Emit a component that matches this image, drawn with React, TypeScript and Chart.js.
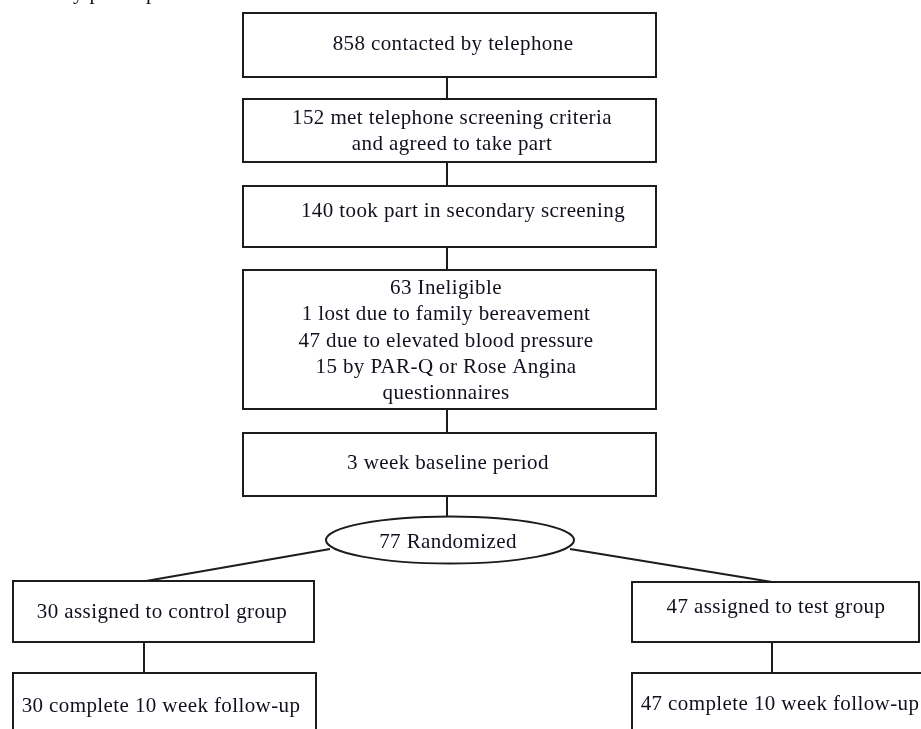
import React, { useEffect, useRef } from "react";
import { Chart, registerables } from "chart.js";

Chart.register(...registerables);

// ---- content (text) ----
const captionText = "Flow of study participants";
const screeningLabels: string[][] = [
  ["858 contacted by telephone"],
  ["152 met telephone screening criteria", "and agreed to take part"],
  ["140 took part in secondary screening"],
  [
    "63 Ineligible",
    "1 lost due to family bereavement",
    "47 due to elevated blood pressure",
    "15 by PAR-Q or Rose Angina",
    "questionnaires",
  ],
  ["3 week baseline period"],
];
const randomizedLabel = "77 Randomized";
const armLabels = ["30 assigned to control group", "47 assigned to test group"];
const followUpLabels = ["30 complete 10 week follow-up", "47 complete 10 week follow-up"];

// ---- layout (page coordinate space, 921 x 729) ----
type Box = { x0: number; x1: number; y0: number; y1: number; tx: number; by: number };
const screeningGeom: Box[] = [
  { x0: 243, x1: 656, y0: 13, y1: 77, tx: 453, by: 50 },
  { x0: 243, x1: 656, y0: 99, y1: 162, tx: 452, by: 124 },
  { x0: 243, x1: 656, y0: 186, y1: 247, tx: 463, by: 217 },
  { x0: 243, x1: 656, y0: 270, y1: 409, tx: 446, by: 294 },
  { x0: 243, x1: 656, y0: 433, y1: 496, tx: 448, by: 469 },
];
const armGeom: Box[] = [
  { x0: 13, x1: 314, y0: 581, y1: 642, tx: 162, by: 618 },
  { x0: 632, x1: 919, y0: 582, y1: 642, tx: 776, by: 613 },
];
const followGeom: Box[] = [
  { x0: 13, x1: 316, y0: 673, y1: 737, tx: 161, by: 712 },
  { x0: 632, x1: 924, y0: 673, y1: 737, tx: 780, by: 710 },
];
const ellipseGeom = { cx: 450, cy: 540, rx: 124, ry: 23.5, tx: 448, by: 548 };
const vConnectors: [number, number, number][] = [
  [447, 77, 99],
  [447, 162, 186],
  [447, 247, 270],
  [447, 409, 433],
  [447, 496, 517],
  [144, 642, 673],
  [772, 642, 673],
];
const diagConnectors: [number, number, number, number][] = [
  [330, 549, 146, 581],
  [570, 549, 772, 582],
];
const lineHeight = 26.3;
const FONT = '21px "Liberation Serif", "Times New Roman", serif';
const INK = "#1c1c1c";
const TEXT = "#10101e";

export default function App() {
  const canvasRef = useRef<HTMLCanvasElement | null>(null);

  useEffect(() => {
    document.body.style.margin = "0";
    const canvas = canvasRef.current;
    if (!canvas) return;

    const allBoxes: { g: Box; lines: string[] }[] = [
      ...screeningGeom.map((g, i) => ({ g, lines: screeningLabels[i] })),
      ...armGeom.map((g, i) => ({ g, lines: [armLabels[i]] })),
      ...followGeom.map((g, i) => ({ g, lines: [followUpLabels[i]] })),
    ];

    const flowPlugin = {
      id: "flowDraw",
      afterDraw(chart: any) {
        const ctx: CanvasRenderingContext2D = chart.ctx;
        const xs = chart.scales.x;
        const ys = chart.scales.y;
        const px = (v: number) => xs.getPixelForValue(v);
        const py = (v: number) => ys.getPixelForValue(v);
        ctx.save();
        ctx.strokeStyle = INK;
        ctx.lineWidth = 2;
        ctx.lineCap = "butt";

        // connectors
        vConnectors.forEach(([x, a, b]) => {
          ctx.beginPath();
          ctx.moveTo(px(x), py(a));
          ctx.lineTo(px(x), py(b));
          ctx.stroke();
        });
        diagConnectors.forEach(([x0, y0, x1, y1]) => {
          ctx.beginPath();
          ctx.moveTo(px(x0), py(y0));
          ctx.lineTo(px(x1), py(y1));
          ctx.stroke();
        });

        // boxes
        allBoxes.forEach(({ g }) => {
          const x0 = px(g.x0), x1 = px(g.x1), y0 = py(g.y0), y1 = py(g.y1);
          ctx.fillStyle = "#ffffff";
          ctx.fillRect(x0, y0, x1 - x0, y1 - y0);
          ctx.strokeRect(x0, y0, x1 - x0, y1 - y0);
        });

        // ellipse
        const e = ellipseGeom;
        ctx.beginPath();
        ctx.ellipse(px(e.cx), py(e.cy), px(e.cx + e.rx) - px(e.cx), py(e.cy + e.ry) - py(e.cy), 0, 0, Math.PI * 2);
        ctx.fillStyle = "#ffffff";
        ctx.fill();
        ctx.stroke();

        // text
        ctx.font = FONT;
        try {
          (ctx as any).letterSpacing = "0.4px";
        } catch (err) {
          /* ignore */
        }
        ctx.fillStyle = TEXT;
        ctx.textAlign = "center";
        ctx.textBaseline = "alphabetic";
        allBoxes.forEach(({ g, lines }) => {
          lines.forEach((t, i) => {
            ctx.fillText(t, px(g.tx), py(g.by + i * lineHeight));
          });
        });
        ctx.fillText(randomizedLabel, px(e.tx), py(e.by));

        // caption (mostly above the visible area)
        ctx.textAlign = "left";
        const pre = ctx.measureText("Flow of stud").width;
        ctx.fillText(captionText, px(73) - pre, py(-1));
        ctx.restore();
      },
    };

    const centers = [...screeningGeom, ...armGeom, ...followGeom].map((g) => ({
      x: (g.x0 + g.x1) / 2,
      y: (g.y0 + g.y1) / 2,
    }));

    const chart = new Chart(canvas, {
      type: "scatter",
      data: {
        datasets: [
          {
            data: centers,
            pointRadius: 0,
            pointHoverRadius: 0,
            showLine: false,
          },
        ],
      },
      options: {
        animation: false,
        responsive: true,
        maintainAspectRatio: false,
        layout: { padding: 0 },
        events: [],
        scales: {
          x: { type: "linear", min: 0, max: 921, display: false },
          y: { type: "linear", min: 0, max: 729, reverse: true, display: false },
        },
        plugins: {
          legend: { display: false },
          tooltip: { enabled: false },
        },
      },
      plugins: [flowPlugin],
    });
    return () => chart.destroy();
  }, []);

  return (
    <div
      style={{
        position: "fixed",
        left: 0,
        top: 0,
        width: 921,
        height: 729,
        background: "#ffffff",
      }}
    >
      <canvas ref={canvasRef} />
    </div>
  );
}
